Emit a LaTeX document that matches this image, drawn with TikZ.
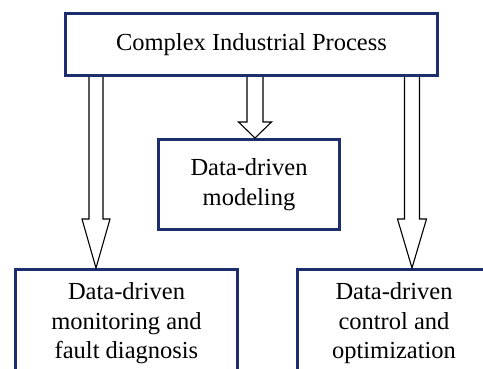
\documentclass[tikz,border=0pt]{standalone}
\usepackage{fontspec}
\setmainfont{Liberation Serif}
\usepackage{tikz}
\usetikzlibrary{positioning,calc}
\definecolor{boxnavy}{HTML}{1C2E6E}

% hollow block arrow: start, tip, head length, shaft half width, head half width
\newcommand{\hollowarrow}[5]{%
  \draw[black, line width=1.1, line join=miter, fill=white]
    let \p1=(#1), \p2=(#2) in
    (\x2-#4pt,\y1) -- (\x2-#4pt,\y2+#3pt) -- (\x2-#5pt,\y2+#3pt) -- (\x2,\y2)
    -- (\x2+#5pt,\y2+#3pt) -- (\x2+#4pt,\y2+#3pt) -- (\x2+#4pt,\y1);
}

\begin{document}
\begin{tikzpicture}[x=1pt, y=1pt,
  font=\fontsize{24.5}{29.5}\selectfont,
  stagebox/.style={draw=boxnavy, line width=3, fill=white, inner sep=0pt, align=center}]
  \useasboundingbox (0,0) rectangle (483,-368);
  \clip (0,0) rectangle (483,-368);
  % boxes
  \node[stagebox, minimum width=372, minimum height=62] (proc) at (251.5,-44.5) {Complex Industrial Process};
  \node[stagebox, minimum width=181, minimum height=90] (model) at (249,-184.5) {Data-driven\\modeling};
  \node[stagebox, minimum width=222, minimum height=108] (monit) at (126.5,-323.5) {Data-driven\\monitoring and\\fault diagnosis};
  \node[stagebox, minimum width=193, minimum height=108] (ctrl) at (394,-323.5) {Data-driven\\control and\\optimization};
  % arrow tips
  \coordinate (montip) at ([xshift=-30.5]monit.north);
  \coordinate (modtip) at ([xshift=6]model.north);
  \coordinate (ctltip) at ([xshift=18]ctrl.north);
  % arrows
  \hollowarrow{proc.south}{montip}{49}{7}{14}
  \hollowarrow{proc.south}{modtip}{16}{8}{16.5}
  \hollowarrow{proc.south}{ctltip}{49}{7.5}{14.5}
\end{tikzpicture}
\end{document}
